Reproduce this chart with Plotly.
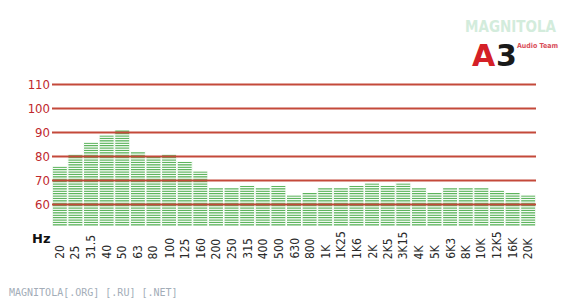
import plotly.graph_objects as go

freqs = ["20", "25", "31.5", "40", "50", "63", "80", "100", "125", "160",
         "200", "250", "315", "400", "500", "630", "800", "1K", "1K25", "1K6",
         "2K", "2K5", "3K15", "4K", "5K", "6K3", "8K", "10K", "12K5", "16K", "20K"]
levels = [76, 81, 86, 89, 91, 82, 80, 81, 78, 74,
          67, 67, 68, 67, 68, 64, 65, 67, 67, 68,
          69, 68, 69, 67, 65, 67, 67, 67, 66, 65, 64]
y_ticks = [60, 70, 80, 90, 100, 110]
y_floor = 51
y_top = 111

W, H = 571, 302
ML, MR, MT, MB = 52, 35, 82, 76
plot_w = W - ML - MR
plot_h = H - MT - MB


def px_x(p):
    return (p - ML) / plot_w


def px_y(p):
    return (H - MB - p) / plot_h


fig = go.Figure()

# LED-style segmented bars: one 1 dB segment per level step
for k in range(y_floor, max(levels)):
    seg = [max(0, min(1, v - k)) for v in levels]
    fig.add_trace(go.Bar(
        x=list(range(len(freqs))), y=seg, base=k,
        marker=dict(color="#5db45d", line=dict(color="white", width=1)),
        hoverinfo="skip", showlegend=False,
    ))

shapes = []
for t in y_ticks:
    shapes.append(dict(type="line", xref="paper", x0=0, x1=1, yref="y", y0=t, y1=t,
                       line=dict(color="#c4493a", width=2), layer="above"))

annotations = []
for i, f in enumerate(freqs):
    annotations.append(dict(
        x=i, xref="x", y=px_y(261), yref="paper",
        text=f, textangle=-90, showarrow=False, xanchor="center", yanchor="bottom",
        font=dict(family="DejaVu Sans Condensed", size=12, color="#2a2a2a"),
    ))

annotations.append(dict(text="<b>Hz</b>", x=px_x(30), y=px_y(238), xref="paper", yref="paper",
                        xanchor="left", yanchor="middle", showarrow=False,
                        font=dict(family="DejaVu Sans", size=13, color="#111111")))
annotations.append(dict(text="MAGNITOLA[.ORG] [.RU] [.NET]", x=px_x(7), y=px_y(292),
                        xref="paper", yref="paper", xanchor="left", yanchor="middle",
                        showarrow=False,
                        font=dict(family="DejaVu Sans Mono", size=10, color="#a3adb8")))
# logo
annotations.append(dict(text="<b>MAGNITOLA</b>", x=px_x(511), y=px_y(27), xref="paper", yref="paper",
                        xanchor="center", yanchor="middle", showarrow=False,
                        font=dict(family="DejaVu Sans Condensed", size=15, color="#d3ecdc")))
annotations.append(dict(text="<b>A</b>", x=px_x(484), y=px_y(55), xref="paper", yref="paper",
                        xanchor="center", yanchor="middle", showarrow=False,
                        font=dict(family="DejaVu Sans", size=30, color="#d42027")))
annotations.append(dict(text="<b>3</b>", x=px_x(506), y=px_y(55), xref="paper", yref="paper",
                        xanchor="center", yanchor="middle", showarrow=False,
                        font=dict(family="DejaVu Sans", size=30, color="#1a1a1a")))
annotations.append(dict(text="<b>Audio Team</b>", x=px_x(537), y=px_y(46), xref="paper", yref="paper",
                        xanchor="center", yanchor="middle", showarrow=False,
                        font=dict(family="DejaVu Sans Condensed", size=7, color="#d9505a")))

fig.update_layout(
    width=W, height=H, autosize=False,
    margin=dict(l=ML, r=MR, t=MT, b=MB, pad=0),
    paper_bgcolor="white", plot_bgcolor="white",
    barmode="overlay", bargap=0.04,
    shapes=shapes, annotations=annotations,
    showlegend=False,
    xaxis=dict(range=[-0.5, len(freqs) - 0.5], showticklabels=False,
               showgrid=False, zeroline=False, showline=False, ticks=""),
    yaxis=dict(range=[y_floor, y_top], tickvals=y_ticks, ticktext=[str(t) for t in y_ticks],
               showgrid=False, zeroline=False, showline=False, ticks="",
               tickfont=dict(family="DejaVu Sans Condensed", size=13, color="#c0282d"),
               ticklabelstandoff=1),
)

fig.write_html("out.html")
